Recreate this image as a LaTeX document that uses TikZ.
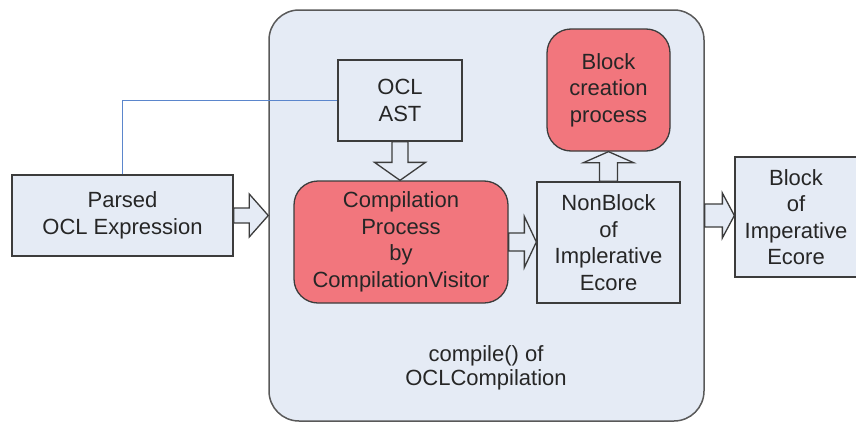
\documentclass[tikz,border=0pt]{standalone}
\usepackage{fontspec}
\setmainfont{Liberation Sans}
\usetikzlibrary{calc}
\definecolor{bgblue}{HTML}{E5EBF5}
\definecolor{boxred}{HTML}{F2767D}
\definecolor{edgec}{HTML}{3C3C3C}
\definecolor{linkblue}{HTML}{5B86CC}
\definecolor{txt}{HTML}{262626}
\tikzset{
 box/.style={draw=edgec, line width=1.3pt, fill=bgblue, inner sep=0pt, align=center, text=txt, font=\fontsize{22}{26.5}\selectfont},
 redbox/.style={box, fill=boxred, rounded corners=24pt},
 container/.style={draw=edgec!85, line width=1.5pt, fill=bgblue, rounded corners=30pt, inner sep=0pt},
 fat/.style={draw=edgec, line width=1.3pt, fill=bgblue, line join=miter},
 link/.style={draw=linkblue, line width=1.2pt},
 caption/.style={align=center, text=txt, font=\fontsize{22}{24}\selectfont, inner sep=0pt},
}
\newcommand\fatright[5]{\path[fat] let \p1=(#1), \p2=(#2) in
 (\x1,\y1+#3) -- (\x2-#5,\y1+#3) -- (\x2-#5,\y1+#4) -- (\x2,\y1) -- (\x2-#5,\y1-#4) -- (\x2-#5,\y1-#3) -- (\x1,\y1-#3) -- cycle;}
\newcommand\fatdown[5]{\path[fat] let \p1=(#1), \p2=(#2) in
 (\x1-#3,\y1) -- (\x1-#3,\y2+#5) -- (\x1-#4,\y2+#5) -- (\x1,\y2) -- (\x1+#4,\y2+#5) -- (\x1+#3,\y2+#5) -- (\x1+#3,\y1) -- cycle;}
\newcommand\fatup[5]{\path[fat] let \p1=(#1), \p2=(#2) in
 (\x1-#3,\y1) -- (\x1-#3,\y2-#5) -- (\x1-#4,\y2-#5) -- (\x1,\y2) -- (\x1+#4,\y2-#5) -- (\x1+#3,\y2-#5) -- (\x1+#3,\y1) -- cycle;}
\begin{document}
\begin{tikzpicture}[x=1pt,y=-1pt]
\useasboundingbox (0,0) rectangle (856,423);
\node[container, minimum width=435pt, minimum height=411pt] (cont) at (486.5,215.5) {};
\node[box, minimum width=221pt, minimum height=81pt] (parsed) at (122.5,215.5) {Parsed\\OCL Expression};
\node[box, minimum width=124pt, minimum height=81pt] (ast) at (400,100.5) {OCL\\AST};
\node[redbox, minimum width=214pt, minimum height=122pt] (comp) at (401,242) {Compilation\\Process\\by\\CompilationVisitor};
\node[box, minimum width=143pt, minimum height=121pt] (nb) at (608.5,242.5) {NonBlock\\of\\Implerative\\Ecore};
\node[redbox, minimum width=123pt, minimum height=122pt] (bcp) at (608.5,90) {Block\\creation\\process};
\node[box, minimum width=122pt, minimum height=120pt] (bie) at (796,217) {Block\\of\\Imperative\\Ecore};
\node[caption] (cap) at (486,368) {compile() of\\OCLCompilation};
\draw[link] (parsed.north) |- (ast.west);
\fatright{parsed.east}{cont.west}{7.5pt}{21.5pt}{19pt}
\fatright{comp.east}{nb.west}{9pt}{25.5pt}{12pt}
\fatright{cont.east}{bie.west}{11.5pt}{22.5pt}{12pt}
\fatdown{ast.south}{comp.north}{8pt}{25.5pt}{18pt}
\fatup{nb.north}{bcp.south}{9pt}{25pt}{11pt}
\end{tikzpicture}
\end{document}
